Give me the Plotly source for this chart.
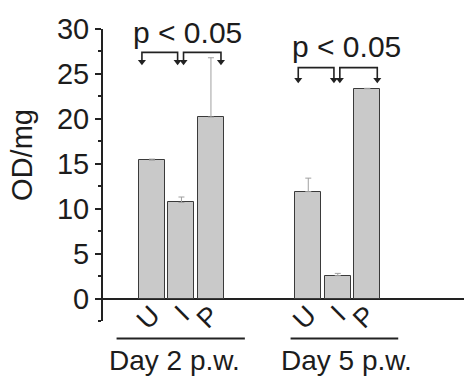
import plotly.graph_objects as go

# ---- data ----
groups = ["Day 2 p.w.", "Day 5 p.w."]
samples = ["U", "I", "P"]
values_day2 = [15.4, 10.7, 20.2]
errors_day2 = [0.12, 0.6, 6.6]
values_day5 = [11.9, 2.55, 23.35]
errors_day5 = [1.5, 0.25, 0.05]
sig_text = "p < 0.05"
y_ticks = [0, 5, 10, 15, 20, 25, 30]

# ---- layout constants ----
GROUP_OFFSET = 5.3
FONT = "Liberation Sans, Arial, sans-serif"
TXT = "#1c1c1c"
bracket_top = [27.4, 25.7]
bracket_tip = [26.0, 24.0]
ptext_y = [29.6, 28.0]
ptext_dx = [1.22, 1.31]
label_x = [0.78, 6.6]
underline = [(-1.2, 3.15), (4.7, 8.35)]

values = [values_day2, values_day5]
errors = [errors_day2, errors_day5]

fig = go.Figure()
xs, ys, es, tt = [], [], [], []
for g in range(len(groups)):
    for i, s in enumerate(samples):
        xs.append(g * GROUP_OFFSET + i)
        ys.append(values[g][i])
        es.append(errors[g][i])
        tt.append(s)

fig.add_trace(go.Bar(
    x=xs, y=ys, width=0.88,
    marker=dict(color="#c9c9c9", line=dict(color="#3a3a3a", width=1)),
    error_y=dict(type="data", symmetric=False, array=es, arrayminus=[0] * len(es),
                 color="#a0a0a0", thickness=1, width=3),
    showlegend=False, hoverinfo="skip",
))

# significance brackets
for g in range(len(groups)):
    base = g * GROUP_OFFSET
    pairs = [(base + 0 - 0.34, base + 1 - 0.13), (base + 1 + 0.07, base + 2 + 0.34)]
    for a, b in pairs:
        fig.add_trace(go.Scatter(
            x=[a, a, b, b],
            y=[bracket_tip[g] + 0.3, bracket_top[g], bracket_top[g], bracket_tip[g] + 0.3],
            mode="lines", line=dict(color="#222", width=1.6),
            showlegend=False, hoverinfo="skip"))
        fig.add_trace(go.Scatter(
            x=[a, b], y=[bracket_tip[g] + 0.35, bracket_tip[g] + 0.35],
            mode="markers", marker=dict(symbol="triangle-down", size=7, color="#222"),
            showlegend=False, hoverinfo="skip"))
    fig.add_annotation(x=base + ptext_dx[g], y=ptext_y[g], xref="x", yref="y",
                       xanchor="center", yanchor="middle",
                       text=sig_text, showarrow=False,
                       font=dict(family=FONT, size=30, color=TXT))
    fig.add_annotation(x=label_x[g], y=-0.135, xref="x", yref="paper",
                       xanchor="center", yanchor="middle",
                       text=groups[g], showarrow=False,
                       font=dict(family=FONT, size=28, color=TXT))
    fig.add_shape(type="line", xref="x", yref="paper",
                  x0=underline[g][0], x1=underline[g][1], y0=-0.06, y1=-0.06,
                  line=dict(color="#222", width=2))

fig.add_annotation(x=-0.225, y=0.568, xref="paper", yref="paper", text="OD/mg",
                   xanchor="center", yanchor="middle",
                   textangle=-90, showarrow=False,
                   font=dict(family=FONT, size=29, color=TXT))

fig.update_layout(
    width=464, height=376,
    margin=dict(l=103, r=0, t=29, b=55, autoexpand=False),
    paper_bgcolor="white", plot_bgcolor="white",
    bargap=0,
    xaxis=dict(range=[-1.66, 10.58], anchor="free", position=22 / 292,
               tickmode="array", tickvals=xs, ticktext=tt, tickangle=-45,
               showline=False, showgrid=False, zeroline=False, ticks="",
               automargin=False, ticklabelstandoff=-6,
               tickfont=dict(family=FONT, size=27, color=TXT)),
    yaxis=dict(range=[-2.5, 30], tickmode="array", tickvals=y_ticks,
               showline=True, linecolor="#222", linewidth=2,
               ticks="outside", ticklen=6, tickwidth=2, tickcolor="#222",
               minor=dict(ticks="outside", ticklen=3, tickwidth=1.5, tickcolor="#222",
                          dtick=2.5, tick0=0, showgrid=False),
               showgrid=False, zeroline=True, zerolinecolor="#222", zerolinewidth=2,
               automargin=False,
               tickfont=dict(family=FONT, size=29, color=TXT)),
)

fig.write_html("out.html", config={"displayModeBar": False},
               post_script="document.body.style.margin='0';document.body.style.overflow='hidden';")
